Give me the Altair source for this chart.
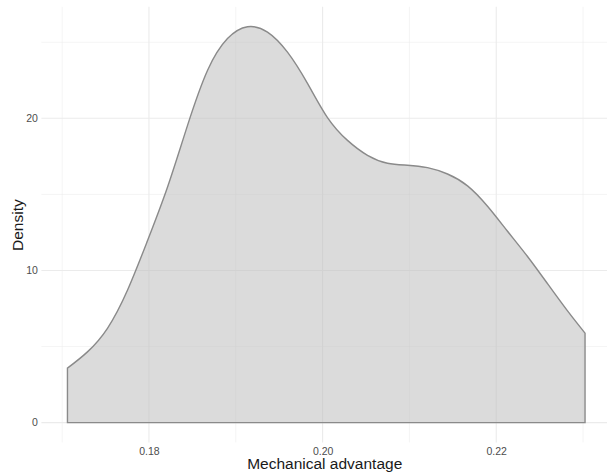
import altair as alt
import pandas as pd

# Kernel density estimate of mechanical advantage, read on an even grid
mech_adv = [0.170611, 0.172915, 0.175219, 0.177523, 0.179827, 0.182131,
            0.184435, 0.186740, 0.189044, 0.191348, 0.193652, 0.195956,
            0.198260, 0.200564, 0.202869, 0.205173, 0.207477, 0.209781,
            0.212085, 0.214389, 0.216694, 0.218998, 0.221302, 0.223606,
            0.225910, 0.228214, 0.230230]
density = [3.58, 4.65, 6.20, 8.70, 11.95, 15.47,
           19.52, 23.14, 25.24, 26.02, 25.67, 24.35,
           22.30, 20.05, 18.55, 17.57, 17.05, 16.92,
           16.76, 16.34, 15.56, 14.22, 12.58, 10.92,
           9.13, 7.34, 5.88]

x_major = [0.18, 0.20, 0.22]
x_minor = [0.17, 0.19, 0.21, 0.23]
y_major = [0, 10, 20]
y_minor = [5, 15, 25]

x_domain = [0.16761, 0.23276]
y_domain = [-1.30, 27.33]

dens_df = pd.DataFrame({"x": mech_adv, "y": density})

x_scale = alt.Scale(domain=x_domain, nice=False, zero=False)
y_scale = alt.Scale(domain=y_domain, nice=False, zero=False)

grid_color = "#EBEBEB"

vminor = alt.Chart(pd.DataFrame({"x": x_minor})).mark_rule(
    color=grid_color, strokeWidth=0.55
).encode(x=alt.X("x:Q", scale=x_scale))
vmajor = alt.Chart(pd.DataFrame({"x": x_major})).mark_rule(
    color=grid_color, strokeWidth=1.1
).encode(x=alt.X("x:Q", scale=x_scale))
hminor = alt.Chart(pd.DataFrame({"y": y_minor})).mark_rule(
    color=grid_color, strokeWidth=0.55
).encode(y=alt.Y("y:Q", scale=y_scale))
hmajor = alt.Chart(pd.DataFrame({"y": y_major})).mark_rule(
    color=grid_color, strokeWidth=1.1
).encode(y=alt.Y("y:Q", scale=y_scale))

area = alt.Chart(dens_df).mark_area(
    interpolate="natural",
    fill="#BEBEBE",
    fillOpacity=0.55,
    stroke="#8A8A8A",
    strokeWidth=1.4,
).encode(
    x=alt.X(
        "x:Q",
        scale=x_scale,
        title="Mechanical advantage",
        axis=alt.Axis(
            values=x_major, format=".2f", grid=False, domain=False, ticks=False,
            labelPadding=4, labelFontSize=10.5, labelColor="#4D4D4D",
            labelFont="Liberation Sans", titleFont="Liberation Sans",
            titleFontSize=15.5, titleFontWeight="normal", titleColor="#1A1A1A",
            titlePadding=0,
        ),
    ),
    y=alt.Y(
        "y:Q",
        scale=y_scale,
        title="Density",
        axis=alt.Axis(
            values=y_major, format="d", grid=False, domain=False, ticks=False,
            labelPadding=4, labelFontSize=10.5, labelColor="#4D4D4D",
            labelFont="Liberation Sans", titleFont="Liberation Sans",
            titleFontSize=15.5, titleFontWeight="normal", titleColor="#1A1A1A",
            titlePadding=0,
        ),
    ),
    y2=alt.datum(0),
)

chart = alt.layer(vminor, vmajor, hminor, hmajor, area).properties(
    width=565.6,
    height=435.6,
    background="white",
    autosize=alt.AutoSizeParams(type="none"),
    padding={"left": 41.4, "top": 6.8, "right": 0, "bottom": 33.6},
).configure_view(strokeWidth=0)

chart.save("out.html", embed_options={"renderer": "svg", "actions": False})
